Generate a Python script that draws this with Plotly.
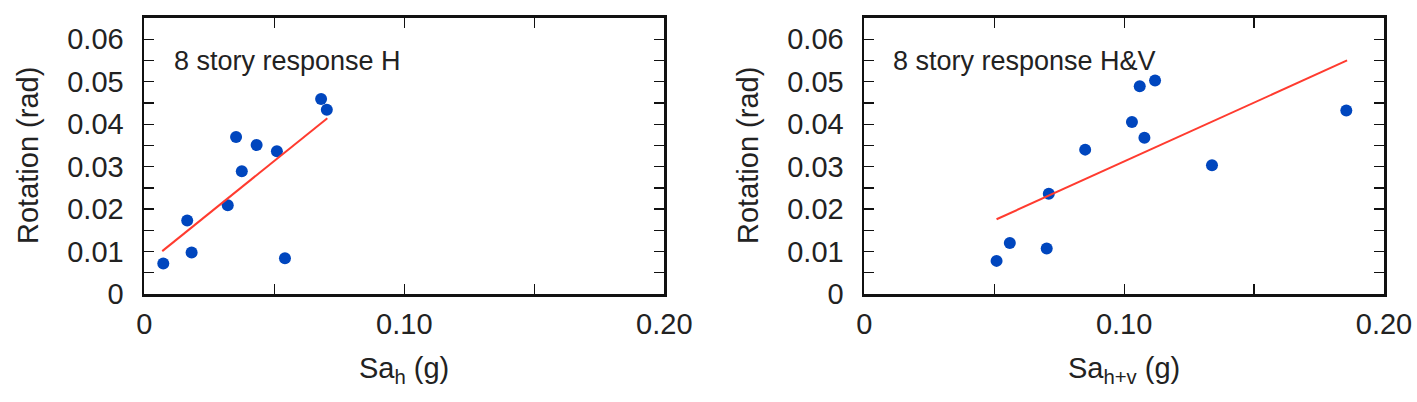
import plotly.graph_objects as go

# ---- data ----
# Left panel: 8 story response H
sa_h = [0.0073, 0.0165, 0.0182, 0.0321, 0.0353, 0.0375, 0.0432, 0.0510, 0.0541, 0.0680, 0.0702]
rot_h = [0.0072, 0.0173, 0.0098, 0.0209, 0.0370, 0.0289, 0.0351, 0.0336, 0.0084, 0.0459, 0.0434]
fit_h_x = [0.0069, 0.0704]
fit_h_y = [0.0101, 0.0414]

# Right panel: 8 story response H&V
sa_hv = [0.0509, 0.0560, 0.0702, 0.0710, 0.0850, 0.1030, 0.1060, 0.1078, 0.1119, 0.1338, 0.1855]
rot_hv = [0.0078, 0.0120, 0.0107, 0.0236, 0.0340, 0.0405, 0.0489, 0.0368, 0.0503, 0.0303, 0.0432]
fit_hv_x = [0.0509, 0.1858]
fit_hv_y = [0.0176, 0.0550]

x_tickvals = [0, 0.05, 0.10, 0.15, 0.20]
x_ticktext = ["0", "", "0.10", "", "0.20"]
y_tickvals = [0, 0.005, 0.01, 0.015, 0.02, 0.025, 0.03, 0.035, 0.04, 0.045, 0.05, 0.055, 0.06]
y_ticktext = ["0", "", "0.01", "", "0.02", "", "0.03", "", "0.04", "", "0.05", "", "0.06"]

panel_labels = ["8 story response H", "8 story response H&V"]
x_titles = ["Sa<sub>h</sub> (g)", "Sa<sub>h+v</sub> (g)"]
y_title = "Rotation (rad)"

# ---- styling ----
W, H = 1417, 402
FONT = "Liberation Sans, Arial, sans-serif"
TXT = "#222222"
DOT = "#0046BE"
LINE = "#FF3B2F"

fig = go.Figure()
fig.add_trace(go.Scatter(x=sa_h, y=rot_h, mode="markers", marker=dict(color=DOT, size=12),
                         xaxis="x", yaxis="y", showlegend=False))
fig.add_trace(go.Scatter(x=fit_h_x, y=fit_h_y, mode="lines", line=dict(color=LINE, width=2),
                         xaxis="x", yaxis="y", showlegend=False))
fig.add_trace(go.Scatter(x=sa_hv, y=rot_hv, mode="markers", marker=dict(color=DOT, size=12),
                         xaxis="x2", yaxis="y2", showlegend=False))
fig.add_trace(go.Scatter(x=fit_hv_x, y=fit_hv_y, mode="lines", line=dict(color=LINE, width=2),
                         xaxis="x2", yaxis="y2", showlegend=False))

def xax(dom, anchor):
    return dict(domain=dom, anchor=anchor, range=[0, 0.2], tickvals=x_tickvals, ticktext=x_ticktext,
                ticks="inside", ticklen=10, tickwidth=1.3, tickcolor="#111", mirror="ticks",
                showline=True, linewidth=2.8, linecolor="#111", showgrid=False, zeroline=False,
                tickfont=dict(family=FONT, size=29, color=TXT), ticklabelstandoff=2, automargin=False)

def yax(dom, anchor):
    return dict(domain=dom, anchor=anchor, range=[0, 0.065], tickvals=y_tickvals, ticktext=y_ticktext,
                ticks="inside", ticklen=10, tickwidth=1.3, tickcolor="#111", mirror="ticks",
                showline=True, linewidth=2.8, linecolor="#111", showgrid=False, zeroline=False,
                tickfont=dict(family=FONT, size=29, color=TXT), ticklabelstandoff=12, automargin=False)

ydom = [(402 - 294) / H, (402 - 18) / H]
x1dom = [144.3 / W, 664.3 / W]
x2dom = [864.3 / W, 1384 / W]

annotations = [
    dict(x=0.0105, y=0.0548, xref="x", yref="y", text=panel_labels[0], showarrow=False,
         xanchor="left", yanchor="middle", font=dict(family=FONT, size=27, color=TXT)),
    dict(x=0.0102, y=0.0548, xref="x2", yref="y2", text=panel_labels[1], showarrow=False,
         xanchor="left", yanchor="middle", font=dict(family=FONT, size=27, color=TXT)),
    dict(x=404 / W, y=(402 - 370) / H, xref="paper", yref="paper", text=x_titles[0], showarrow=False,
         xanchor="center", yanchor="middle", font=dict(family=FONT, size=29, color=TXT)),
    dict(x=1124 / W, y=(402 - 370) / H, xref="paper", yref="paper", text=x_titles[1], showarrow=False,
         xanchor="center", yanchor="middle", font=dict(family=FONT, size=29, color=TXT)),
    dict(x=28 / W, y=(402 - 156) / H, xref="paper", yref="paper", text=y_title, showarrow=False,
         textangle=-90, xanchor="center", yanchor="middle", font=dict(family=FONT, size=29, color=TXT)),
    dict(x=748 / W, y=(402 - 156) / H, xref="paper", yref="paper", text=y_title, showarrow=False,
         textangle=-90, xanchor="center", yanchor="middle", font=dict(family=FONT, size=29, color=TXT)),
]

fig.update_layout(
    width=W, height=H,
    margin=dict(l=0, r=0, t=0, b=0),
    paper_bgcolor="white", plot_bgcolor="white",
    xaxis=xax(x1dom, "y"), yaxis=yax(ydom, "x"),
    xaxis2=xax(x2dom, "y2"), yaxis2=yax(ydom, "x2"),
    annotations=annotations,
    hovermode=False,
)

fig.write_html("out.html", config={"displayModeBar": False, "staticPlot": True},
               post_script="document.body.style.margin='0';document.body.style.overflow='hidden';")
